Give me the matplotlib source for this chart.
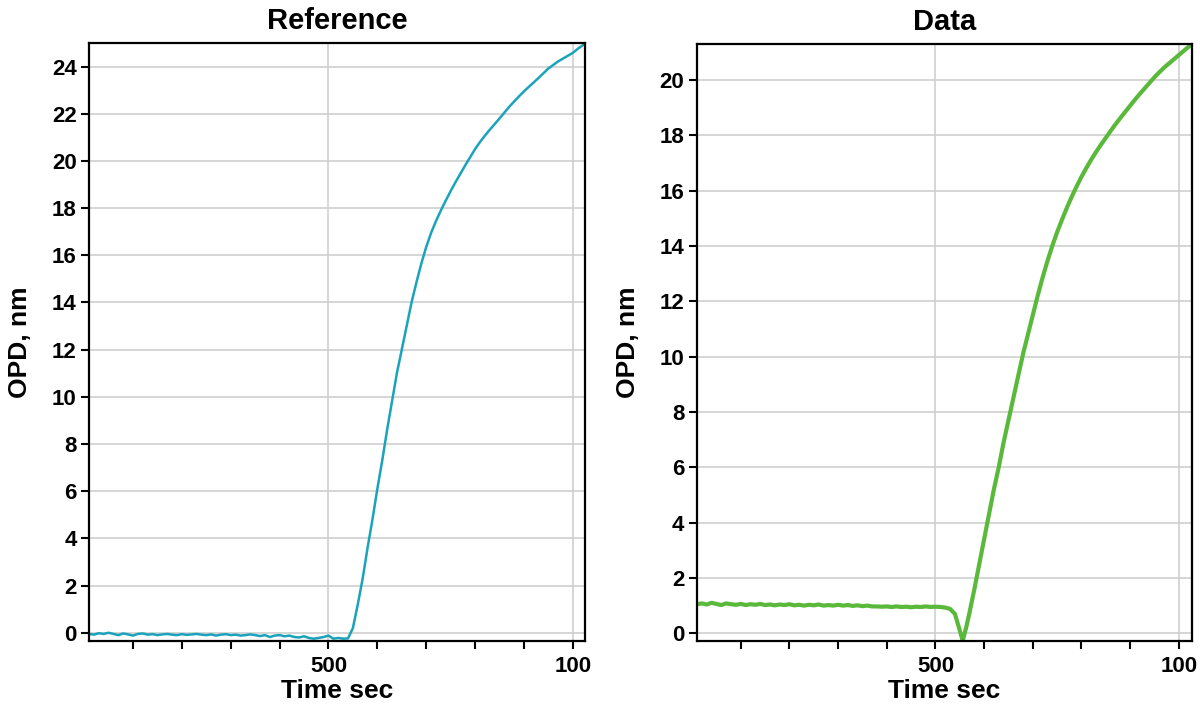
import numpy as np
import matplotlib.pyplot as plt
from matplotlib.ticker import FixedLocator, FixedFormatter

plt.rcParams['font.family'] = ['Liberation Sans', 'DejaVu Sans']
plt.rcParams['font.weight'] = 'bold'

# Reference channel (time in sec, OPD in nm)
ref_time = [10, 20, 30, 40, 50, 60, 70, 80, 90, 100, 110, 120, 130, 140, 150, 160, 170, 180, 190, 200,
            210, 220, 230, 240, 250, 260, 270, 280, 290, 300, 310, 320, 330, 340, 350, 360, 370, 380, 390, 400,
            410, 420, 430, 440, 450, 460, 470, 480, 490, 500, 510, 520, 530, 540, 550, 560, 570, 580, 590, 600,
            610, 620, 630, 640, 650, 660, 670, 680, 690, 700, 710, 720, 730, 740, 750, 760, 770, 780, 790, 800,
            810, 820, 830, 840, 850, 860, 870, 880, 890, 900, 910, 920, 930, 940, 950, 960, 970, 980, 990, 1000,
            1010, 1025]
ref_opd = [-0.05, -0.08, -0.02, -0.05, 0.0, -0.05, -0.1, -0.03, -0.07, -0.12, -0.05, -0.03, -0.08, -0.06, -0.1, -0.07, -0.05, -0.08, -0.1, -0.06,
           -0.09, -0.07, -0.05, -0.08, -0.1, -0.07, -0.12, -0.08, -0.06, -0.1, -0.08, -0.12, -0.1, -0.07, -0.1, -0.14, -0.1, -0.18, -0.12, -0.1,
           -0.15, -0.12, -0.18, -0.2, -0.15, -0.22, -0.25, -0.22, -0.18, -0.12, -0.25, -0.22, -0.25, -0.24, 0.2, 1.2, 2.3, 3.6, 4.8, 6.1,
           7.3, 8.6, 9.8, 11.0, 12.0, 13.0, 14.0, 14.85, 15.65, 16.35, 16.95, 17.45, 17.9, 18.32, 18.72, 19.1, 19.46, 19.82, 20.16, 20.5,
           20.8, 21.07, 21.32, 21.56, 21.8, 22.05, 22.3, 22.52, 22.74, 22.95, 23.14, 23.33, 23.52, 23.72, 23.92, 24.07, 24.22, 24.34, 24.46, 24.58,
           24.75, 24.97]

# Data channel
dat_time = [10, 20, 30, 40, 50, 60, 70, 80, 90, 100, 110, 120, 130, 140, 150, 160, 170, 180, 190, 200,
            210, 220, 230, 240, 250, 260, 270, 280, 290, 300, 310, 320, 330, 340, 350, 360, 370, 380, 390, 400,
            410, 420, 430, 440, 450, 460, 470, 480, 490, 500, 510, 520, 530, 540, 550, 556, 563, 570, 580, 590, 600,
            610, 620, 630, 640, 650, 660, 670, 680, 690, 700, 710, 720, 730, 740, 750, 760, 770, 780, 790, 800,
            810, 820, 830, 840, 850, 860, 870, 880, 890, 900, 910, 920, 930, 940, 950, 960, 970, 980, 990, 1000,
            1010, 1027]
dat_opd = [1.05, 1.08, 1.04, 1.1, 1.06, 1.02, 1.08, 1.05, 1.03, 1.06, 1.02, 1.05, 1.03, 1.06, 1.02, 1.04, 1.01, 1.04, 1.02, 1.05,
           1.01, 1.03, 1.0, 1.03, 1.01, 1.04, 1.0, 1.02, 1.0, 1.03, 1.0, 1.02, 0.99, 1.01, 0.98, 1.0, 0.97, 0.97, 0.96, 0.97,
           0.95, 0.97, 0.95, 0.96, 0.94, 0.96, 0.95, 0.97, 0.95, 0.96, 0.95, 0.93, 0.88, 0.7, 0.1, -0.27, 0.2, 0.75, 1.6, 2.5, 3.4,
           4.3, 5.2, 6.0, 6.9, 7.7, 8.5, 9.3, 10.1, 10.8, 11.5, 12.2, 12.85, 13.45, 14.0, 14.5, 14.95, 15.38, 15.78, 16.15, 16.5,
           16.82, 17.12, 17.4, 17.66, 17.91, 18.16, 18.4, 18.63, 18.85, 19.07, 19.29, 19.5, 19.7, 19.9, 20.1, 20.28, 20.45, 20.6, 20.75, 20.9,
           21.05, 21.3]

x_major = [500, 1000]
x_major_labels = ['500', '100']
x_minor = [100, 200, 300, 400, 600, 700, 800, 900]

fig = plt.figure(figsize=(12, 7.12), dpi=100)
ax1 = fig.add_axes([0.0742, 0.0997, 0.4133, 0.8399])
ax2 = fig.add_axes([0.5808, 0.0997, 0.4125, 0.8385])


def style_axes(ax, title, yticks, xlim, ylim):
    ax.set_xlim(*xlim)
    ax.set_ylim(*ylim)
    ax.xaxis.set_major_locator(FixedLocator(x_major))
    ax.xaxis.set_major_formatter(FixedFormatter(x_major_labels))
    ax.xaxis.set_minor_locator(FixedLocator(x_minor))
    ax.set_yticks(yticks)
    ax.grid(True, which='major', color='#cfcfcf', linewidth=1.2)
    ax.set_axisbelow(True)
    for s in ax.spines.values():
        s.set_linewidth(1.6)
        s.set_color('black')
    ax.tick_params(which='both', direction='out', length=6, width=1.5, colors='black', labelsize=16)
    ax.tick_params(axis='x', pad=5)
    ax.tick_params(axis='y', pad=3)
    ax.set_title(title, fontsize=21, fontweight='bold', pad=10)
    ax.set_xlabel('Time sec', fontsize=19, fontweight='bold', labelpad=1)
    ax.set_ylabel('OPD, nm', fontsize=19, fontweight='bold', labelpad=14)


ax1.plot(ref_time, ref_opd, color='#1ba3bb', linewidth=1.8)
style_axes(ax1, 'Reference', np.arange(0, 25, 2), (10, 1025), (-0.35, 25.0))

ax2.plot(dat_time, dat_opd, color='#5ab83a', linewidth=3)
style_axes(ax2, 'Data', np.arange(0, 21, 2), (10, 1027), (-0.28, 21.3))

fig.savefig('out.png', dpi=100)
